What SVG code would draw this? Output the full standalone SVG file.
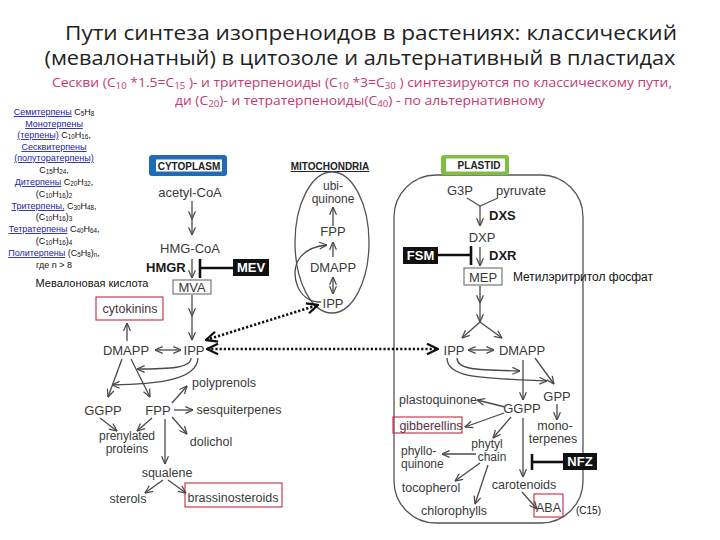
<svg xmlns="http://www.w3.org/2000/svg" width="720" height="540" viewBox="0 0 720 540">
<defs>
<style>
.t{font-family:"Liberation Sans",Arial,sans-serif;fill:#3a3a3a;text-anchor:middle;font-size:13px}
.s{font-size:12.5px}
.s2{font-size:12px}
.l{text-anchor:start}
.b{font-weight:bold;fill:#1a1a1a;text-anchor:start}
.w{font-family:"Liberation Sans",Arial,sans-serif;font-weight:bold;fill:#fff;font-size:13px;text-anchor:middle}
.badge{font-family:"Liberation Sans",Arial,sans-serif;font-weight:bold;font-size:10px;fill:#222;text-anchor:middle}
.a{fill:none;stroke:#4a4a4a;stroke-width:1.3;marker-end:url(#ah)}
.m{marker-mid:url(#ah)}
.bi{marker-start:url(#ah)}
.inh{stroke:#111;stroke-width:2.6;fill:none}
.blk{fill:#111}
.red{fill:none;stroke:#c42a3c;stroke-width:1.1}
.box{fill:#fff;stroke:#777;stroke-width:1.2}
.dot{fill:none;stroke:#111;stroke-width:2.6;stroke-dasharray:2.2 2;marker-start:url(#bh);marker-end:url(#bh)}
.ttl{font-family:"Open Sans","Noto Sans",sans-serif;font-size:20.5px;fill:#222;text-anchor:middle}
.sub{font-family:"Open Sans","Noto Sans",sans-serif;font-size:13px;fill:#c63a73;text-anchor:middle}
.lc{font-family:"Liberation Sans",Arial,sans-serif;font-size:9px;fill:#111;text-anchor:middle}
.ln{fill:#2323a8;text-decoration:underline}
.sb{font-size:70%;baseline-shift:-0.22em}
.mem{fill:none;stroke:#555;stroke-width:1.3}
</style>
<marker id="ah" viewBox="0 0 10 10" refX="9.5" refY="5" markerWidth="9" markerHeight="9" markerUnits="userSpaceOnUse" orient="auto-start-reverse">
<path d="M1,1.2 L9.5,5 L1,8.8" fill="none" stroke="#4a4a4a" stroke-width="1.4"/>
</marker>
<marker id="bh" viewBox="0 0 10 10" refX="9.5" refY="5" markerWidth="13" markerHeight="13" markerUnits="userSpaceOnUse" orient="auto-start-reverse">
<path d="M1,1 L9.5,5 L1,9" fill="none" stroke="#111" stroke-width="1.8"/>
</marker>
</defs>
<rect width="720" height="540" fill="#fff"/>

<g id="title">
<text class="ttl" x="371" y="40" textLength="612" lengthAdjust="spacingAndGlyphs">Пути синтеза изопреноидов в растениях: классический</text>
<text class="ttl" x="360" y="65" textLength="631" lengthAdjust="spacingAndGlyphs">(мевалонатный) в цитозоле и альтернативный в пластидах</text>
</g>
<g id="subtitle">
<text class="sub" x="362" y="87" textLength="620" lengthAdjust="spacingAndGlyphs">Сескви (C<tspan class="sb">10</tspan> *1.5=C<tspan class="sb">15</tspan> )- и тритерпеноиды (C<tspan class="sb">10</tspan> *3=C<tspan class="sb">30</tspan> ) синтезируются по классическому пути,</text>
<text class="sub" x="360" y="105" textLength="370" lengthAdjust="spacingAndGlyphs">ди (C<tspan class="sb">20</tspan>)- и тетратерпеноиды(C<tspan class="sb">40</tspan>) - по альтернативному</text>
</g>

<g id="terpene-list">
<text class="lc" x="54" y="115"><tspan class="ln">Семитерпены</tspan> C<tspan class="sb">5</tspan>H<tspan class="sb">8</tspan></text>
<text class="lc" x="54" y="127"><tspan class="ln">Монотерпены</tspan></text>
<text class="lc" x="54" y="138"><tspan class="ln">(терпены)</tspan> C<tspan class="sb">10</tspan>H<tspan class="sb">16</tspan>,</text>
<text class="lc" x="54" y="150"><tspan class="ln">Сесквитерпены</tspan></text>
<text class="lc" x="54" y="161"><tspan class="ln">(полуторатерпены)</tspan></text>
<text class="lc" x="54" y="173">C<tspan class="sb">15</tspan>H<tspan class="sb">24</tspan>,</text>
<text class="lc" x="54" y="185"><tspan class="ln">Дитерпены</tspan> C<tspan class="sb">20</tspan>H<tspan class="sb">32</tspan>,</text>
<text class="lc" x="54" y="197">(C<tspan class="sb">10</tspan>H<tspan class="sb">16</tspan>)<tspan class="sb">2</tspan></text>
<text class="lc" x="54" y="209"><tspan class="ln">Тритерпены,</tspan> C<tspan class="sb">30</tspan>H<tspan class="sb">48</tspan>,</text>
<text class="lc" x="54" y="220">(C<tspan class="sb">10</tspan>H<tspan class="sb">16</tspan>)<tspan class="sb">3</tspan></text>
<text class="lc" x="54" y="232"><tspan class="ln">Тетратерпены</tspan> C<tspan class="sb">40</tspan>H<tspan class="sb">64</tspan>,</text>
<text class="lc" x="54" y="244">(C<tspan class="sb">10</tspan>H<tspan class="sb">16</tspan>)<tspan class="sb">4</tspan></text>
<text class="lc" x="54" y="256"><tspan class="ln">Политерпены</tspan> (C<tspan class="sb">5</tspan>H<tspan class="sb">8</tspan>)<tspan class="sb">n</tspan>,</text>
<text class="lc" x="54" y="268">где n &gt; 8</text>
<text class="lc" x="92" y="287" style="font-size:11px">Мевалоновая кислота</text>
</g>

<!-- Cytoplasm nodes -->
<g id="cytoplasm-badge">
<rect x="149" y="155" width="78" height="21" rx="3" fill="#1d6cb5"/>
<rect x="156" y="159.5" width="66" height="12" fill="#fff"/>
<text class="badge" x="189" y="169.5">CYTOPLASM</text>
</g>
<g id="acetyl-coa"><text class="t" x="190" y="197">acetyl-CoA</text></g>
<g id="hmg-coa"><text class="t" x="190" y="253">HMG-CoA</text></g>
<g id="hmgr"><text class="t b" x="146" y="272">HMGR</text></g>
<g id="mev"><rect class="blk" x="233" y="259" width="36" height="17"/><text class="w" x="251" y="272">MEV</text></g>
<g id="mva"><rect class="box" x="173" y="280" width="38" height="14"/><text class="t" x="192" y="292">MVA</text></g>
<g id="cytokinins"><rect class="red" x="96" y="297" width="67" height="23"/><text class="t s" x="130" y="313">cytokinins</text></g>
<g id="c-dmapp"><text class="t" x="126" y="355">DMAPP</text></g>
<g id="c-ipp"><text class="t" x="194" y="355">IPP</text></g>
<g id="c-ggpp"><text class="t" x="103" y="415">GGPP</text></g>
<g id="c-fpp"><text class="t" x="158" y="415">FPP</text></g>
<g id="polyprenols"><text class="t s" x="224" y="387">polyprenols</text></g>
<g id="sesquiterpenes"><text class="t s" x="239" y="414">sesquiterpenes</text></g>
<g id="dolichol"><text class="t s" x="211" y="446">dolichol</text></g>
<g id="prenylated-proteins"><text class="t s2" x="127" y="440">prenylated</text><text class="t s2" x="127" y="453">proteins</text></g>
<g id="squalene"><text class="t s" x="167" y="477">squalene</text></g>
<g id="sterols"><text class="t s" x="128" y="503">sterols</text></g>
<g id="brassinosteroids"><rect class="red" x="185" y="483" width="97" height="24"/><text class="t s" x="233" y="502">brassinosteroids</text></g>

<!-- Mitochondria -->
<g id="mitochondria">
<text class="badge" x="330" y="170" style="text-decoration:underline">MITOCHONDRIA</text>
<ellipse class="mem" cx="332" cy="242.5" rx="37" ry="70.5"/>
</g>
<g id="ubiquinone"><text class="t s2" x="333" y="190">ubi-</text><text class="t s2" x="333" y="203">quinone</text></g>
<g id="m-fpp"><text class="t" x="333" y="236">FPP</text></g>
<g id="m-dmapp"><text class="t" x="333" y="272">DMAPP</text></g>
<g id="m-ipp"><text class="t" x="333" y="308">IPP</text></g>

<!-- Plastid -->
<g id="plastid">
<rect class="mem" x="394" y="175" width="189" height="348" rx="42"/>
<rect x="441" y="155" width="68" height="20" rx="3" fill="#7dbf3f"/>
<rect x="446" y="158.5" width="59" height="13" fill="#fff"/>
<text class="badge" x="479" y="168.5">PLASTID</text>
</g>
<g id="g3p"><text class="t" x="460" y="195">G3P</text></g>
<g id="pyruvate"><text class="t" x="521" y="195">pyruvate</text></g>
<g id="dxs"><text class="t b" x="489" y="220">DXS</text></g>
<g id="dxp"><text class="t" x="482" y="242">DXP</text></g>
<g id="dxr"><text class="t b" x="489" y="260">DXR</text></g>
<g id="fsm"><rect class="blk" x="403" y="247" width="35" height="17"/><text class="w" x="420.5" y="260">FSM</text></g>
<g id="mep"><rect class="box" x="464" y="268" width="38" height="17"/><text class="t" x="483" y="281.5">MEP</text></g>
<g id="mep-label"><text class="t l" x="513" y="281" style="font-size:12px;fill:#111" textLength="140" lengthAdjust="spacingAndGlyphs">Метилэритритол фосфат</text></g>
<g id="p-ipp"><text class="t" x="454" y="355">IPP</text></g>
<g id="p-dmapp"><text class="t" x="522" y="355">DMAPP</text></g>
<g id="gpp"><text class="t" x="557" y="401">GPP</text></g>
<g id="monoterpenes"><text class="t s" x="555" y="430">mono-</text><text class="t s" x="553" y="443">terpenes</text></g>
<g id="p-ggpp"><text class="t" x="522" y="413">GGPP</text></g>
<g id="plastoquinone"><text class="t s" x="438" y="404">plastoquinone</text></g>
<g id="gibberellins"><rect class="red" x="393" y="417" width="69" height="16"/><text class="t s" x="431" y="430" style="fill:#5b3040">gibberellins</text></g>
<g id="phytyl-chain"><text class="t s2" x="487" y="448">phytyl</text><text class="t s2" x="492" y="461">chain</text></g>
<g id="phylloquinone"><text class="t s2 l" x="401" y="455">phyllo-</text><text class="t s2 l" x="401" y="468">quinone</text></g>
<g id="tocopherol"><text class="t s" x="431" y="492">tocopherol</text></g>
<g id="chlorophylls"><text class="t s" x="454" y="515">chlorophylls</text></g>
<g id="carotenoids"><text class="t s" x="524" y="489">carotenoids</text></g>
<g id="nfz"><rect class="blk" x="563" y="453" width="34" height="17"/><text class="w" x="580" y="466">NFZ</text></g>
<g id="aba"><rect class="red" x="534" y="494" width="29" height="23"/><text class="t s" x="548.5" y="512">ABA</text></g>
<g id="c15"><text class="t l" x="576" y="514" style="font-size:10px;fill:#111">(C15)</text></g>

<g id="connectors">
<!-- cytoplasm -->
<polyline class="a m" points="192,201 192,219 192,235"/>
<line class="a" x1="192" y1="259" x2="192" y2="278"/>
<line class="inh" x1="200" y1="268" x2="233" y2="268"/>
<line class="inh" x1="200" y1="259" x2="200" y2="278"/>
<polyline class="a m" points="192,295 192,316 192,340"/>
<line class="a bi" x1="155" y1="350" x2="181" y2="350"/>
<line class="a" x1="127" y1="341" x2="127" y2="323"/>
<line class="a" x1="122" y1="359" x2="108" y2="397"/>
<line class="a" x1="131" y1="359" x2="150" y2="397"/>
<path class="a" d="M191,358 C191,368 170,369 137,369"/>
<path class="a" d="M198,358 C197,382 150,384 112,385"/>
<line class="a" x1="172" y1="403" x2="187" y2="386"/>
<line class="a" x1="174" y1="410" x2="193" y2="410"/>
<line class="a" x1="172" y1="417" x2="187" y2="434"/>
<line class="a" x1="100" y1="418" x2="117" y2="431"/>
<line class="a" x1="152" y1="418" x2="137" y2="431"/>
<line class="a" x1="165" y1="419" x2="165" y2="464"/>
<line class="a" x1="163" y1="480" x2="145" y2="493"/>
<line class="a" x1="168" y1="480" x2="186" y2="493"/>
<!-- mitochondria -->
<line class="a" x1="333" y1="226" x2="333" y2="207"/>
<line class="a" x1="333" y1="257" x2="333" y2="242"/>
<line class="a bi" x1="333" y1="277" x2="333" y2="294"/>
<path class="a" d="M321,302 C296,302 290,272 299,259 C305,250 315,246 327,245"/>
<!-- transport -->
<line class="dot" x1="207" y1="349" x2="438" y2="349"/>
<line class="dot" x1="206" y1="340" x2="318" y2="305"/>
<!-- plastid -->
<polyline class="mem" points="467,198 480,206 498,198"/>
<line class="a" x1="480" y1="206" x2="480" y2="226"/>
<line class="a" x1="480" y1="247" x2="480" y2="266"/>
<line class="inh" x1="438" y1="255" x2="471" y2="255"/>
<line class="inh" x1="471" y1="246" x2="471" y2="265"/>
<polyline class="a m" points="480,286 480,303 480,322"/>
<line class="a" x1="480" y1="322" x2="462" y2="338"/>
<line class="a" x1="480" y1="322" x2="502" y2="338"/>
<line class="a bi" x1="468" y1="350" x2="494" y2="350"/>
<path class="a" d="M457,358 C457,369 472,370 520,371"/>
<path class="a" d="M447,358 C447,378 480,378 547,381"/>
<line class="a" x1="535" y1="358" x2="554" y2="384"/>
<line class="a" x1="523" y1="360" x2="523" y2="400"/>
<line class="a" x1="557" y1="404" x2="557" y2="420"/>
<line class="a" x1="505" y1="407" x2="477" y2="400"/>
<line class="a" x1="504" y1="413" x2="465" y2="427"/>
<line class="a" x1="511" y1="417" x2="493" y2="438"/>
<line class="a" x1="476" y1="454" x2="442" y2="454"/>
<line class="a" x1="480" y1="463" x2="455" y2="481"/>
<line class="a" x1="488" y1="465" x2="475" y2="504"/>
<line class="a" x1="523" y1="418" x2="523" y2="477"/>
<line class="inh" x1="532" y1="462" x2="563" y2="462"/>
<line class="inh" x1="532" y1="454" x2="532" y2="470"/>
<line class="a" x1="522" y1="492" x2="537" y2="509"/>
</g>
</svg>
